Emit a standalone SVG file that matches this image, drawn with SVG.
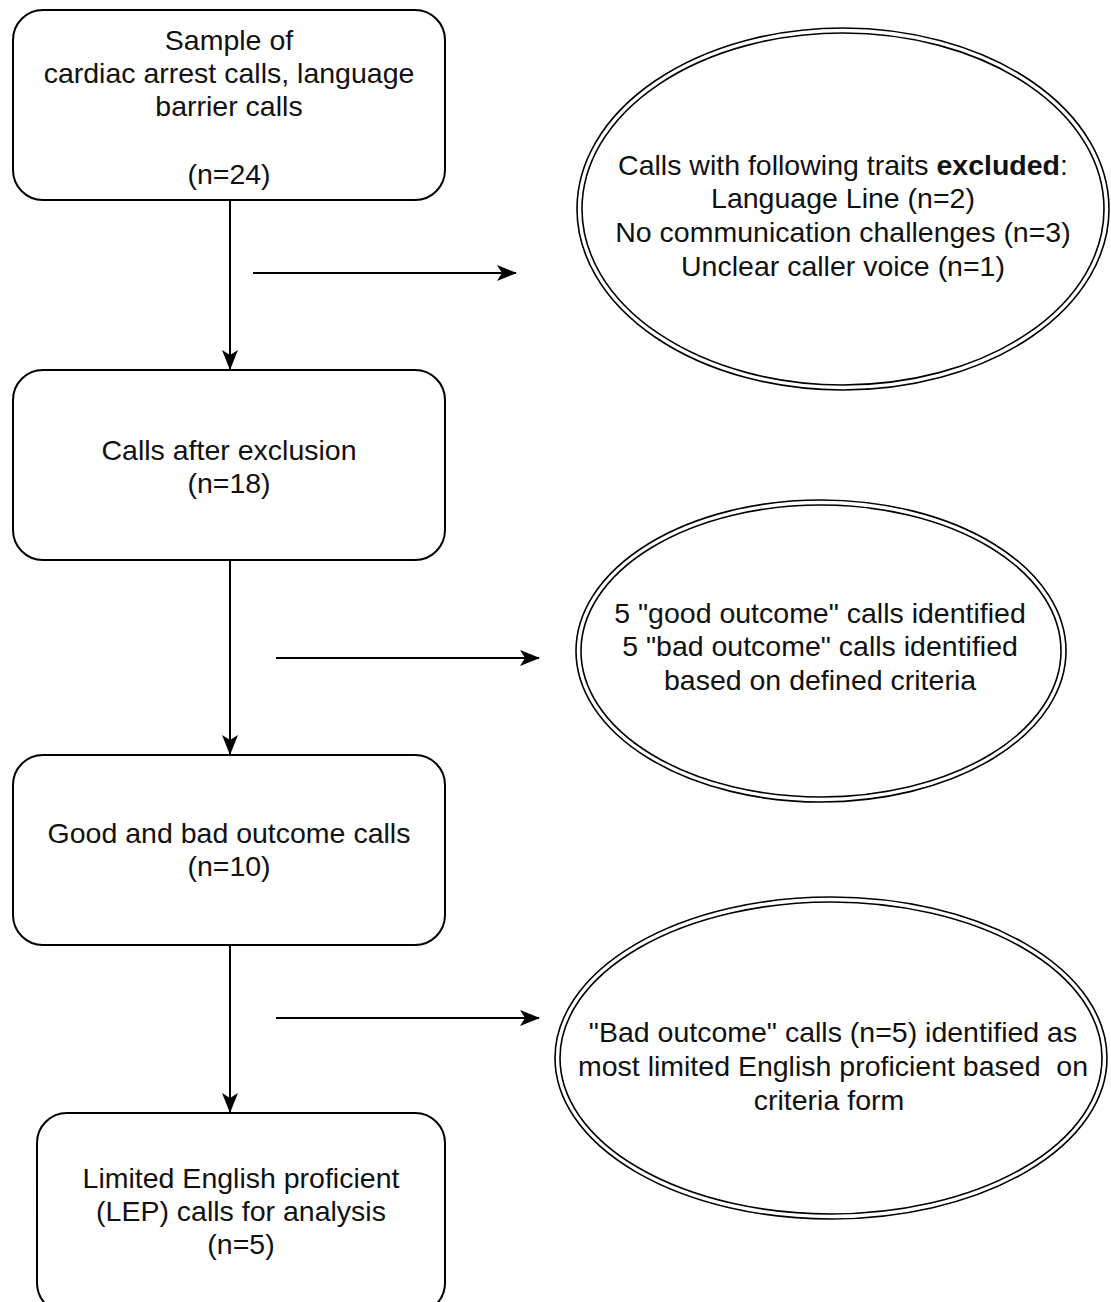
<svg xmlns="http://www.w3.org/2000/svg" width="1111" height="1302" viewBox="0 0 1111 1302">
<style>
.box{fill:#fff;stroke:#000;stroke-width:2}
.ell{fill:none;stroke:#000;stroke-width:1.6}
.t{font-family:"Liberation Sans",Arial,sans-serif;font-size:28.5px;fill:#111;text-anchor:middle}
.c{stroke:#000;stroke-width:2;fill:none}
</style>
<defs>
<marker id="ahb" viewBox="0 0 20 20" refX="19" refY="10" markerWidth="20" markerHeight="20" markerUnits="userSpaceOnUse" orient="auto">
<path d="M0,2 L20,10 L0,18 L5,10 Z" fill="#000"/>
</marker>
</defs>
<rect width="1111" height="1302" fill="#fff"/>
<g id="connectors">
<line class="c" x1="230" y1="200" x2="230" y2="369" marker-end="url(#ahb)"/>
<line class="c" x1="230" y1="560" x2="230" y2="754" marker-end="url(#ahb)"/>
<line class="c" x1="230" y1="945" x2="230" y2="1112" marker-end="url(#ahb)"/>
<line class="c" x1="253" y1="273" x2="516" y2="273" marker-end="url(#ahb)"/>
<line class="c" x1="276" y1="658" x2="539" y2="658" marker-end="url(#ahb)"/>
<line class="c" x1="276" y1="1018" x2="539" y2="1018" marker-end="url(#ahb)"/>
</g>
<g id="node1">
<rect class="box" x="13" y="10" width="432" height="190" rx="30" ry="30"/>
<text class="t" x="229" y="50">Sample of</text>
<text class="t" x="229" y="83">cardiac arrest calls, language</text>
<text class="t" x="229" y="116">barrier calls</text>
<text class="t" x="229" y="184">(n=24)</text>
</g>
<g id="node2">
<rect class="box" x="13" y="370" width="432" height="190" rx="30" ry="30"/>
<text class="t" x="229" y="460">Calls after exclusion</text>
<text class="t" x="229" y="493">(n=18)</text>
</g>
<g id="node3">
<rect class="box" x="13" y="755" width="432" height="190" rx="30" ry="30"/>
<text class="t" x="229" y="843">Good and bad outcome calls</text>
<text class="t" x="229" y="876">(n=10)</text>
</g>
<g id="node4">
<rect class="box" x="37" y="1113" width="408" height="200" rx="30" ry="30"/>
<text class="t" x="241" y="1188">Limited English proficient</text>
<text class="t" x="241" y="1221">(LEP) calls for analysis</text>
<text class="t" x="241" y="1254">(n=5)</text>
</g>
<g id="excl1">
<ellipse class="ell" cx="843" cy="209" rx="266" ry="181"/>
<ellipse class="ell" cx="843" cy="209" rx="261" ry="176"/>
<text class="t" x="843" y="175">Calls with following traits <tspan font-weight="bold">excluded</tspan>:</text>
<text class="t" x="843" y="208">Language Line (n=2)</text>
<text class="t" x="843" y="242">No communication challenges (n=3)</text>
<text class="t" x="843" y="276">Unclear caller voice (n=1)</text>
</g>
<g id="excl2">
<ellipse class="ell" cx="821" cy="651" rx="245" ry="151"/>
<ellipse class="ell" cx="821" cy="651" rx="240" ry="146"/>
<text class="t" x="820" y="623">5 "good outcome" calls identified</text>
<text class="t" x="820" y="656">5 "bad outcome" calls identified</text>
<text class="t" x="820" y="690">based on defined criteria</text>
</g>
<g id="excl3">
<ellipse class="ell" cx="831" cy="1058" rx="276" ry="161"/>
<ellipse class="ell" cx="831" cy="1058" rx="271" ry="156"/>
<text class="t" x="833" y="1042">"Bad outcome" calls (n=5) identified as</text>
<text class="t" x="833" y="1076" xml:space="preserve">most limited English proficient based  on</text>
<text class="t" x="829" y="1110">criteria form</text>
</g>
</svg>
